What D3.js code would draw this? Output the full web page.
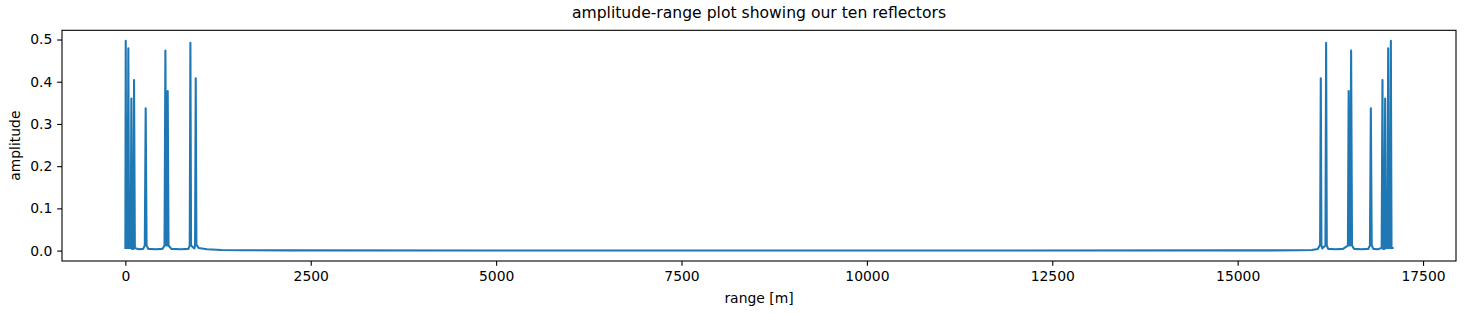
<!DOCTYPE html>
<html>
<head>
<meta charset="utf-8">
<script src="https://cdn.jsdelivr.net/npm/d3@7"></script>
<style>
  html, body { margin: 0; padding: 0; background: #fff; }
  svg { display: block; font-family: "DejaVu Sans", sans-serif; }
</style>
</head>
<body>
<svg id="chart" width="1466" height="314"></svg>
<script>
// range [m] and amplitude of the curve
const rangeM = [
  0, 5, 12, 30, 40, 50, 72, 81, 90, 108, 117, 128, 180, 240, 262, 274, 286, 310,
  400, 500, 528, 540, 552, 562, 571, 582, 620, 750, 850, 868, 877, 886, 930, 940,
  949, 958, 990, 1100, 1300, 1600, 2200, 5000, 8535, 12000, 15000, 15500, 15800,
  16000, 16080, 16112, 16121, 16130, 16140, 16184, 16193, 16202, 16220, 16320,
  16420, 16487, 16497, 16508, 16518, 16530, 16542, 16570, 16670, 16760, 16784,
  16796, 16808, 16830, 16890, 16942, 16953, 16962, 16980, 16989, 16998, 17020,
  17030, 17040, 17058, 17066, 17075, 17090
];
const amplitude = [
  0.006, 0.497, 0.006, 0.006, 0.479, 0.006, 0.006, 0.360, 0.004, 0.004, 0.404, 0.006, 0.003, 0.004, 0.012, 0.337, 0.012, 0.004,
  0.003, 0.004, 0.012, 0.474, 0.012, 0.012, 0.378, 0.012, 0.004, 0.003, 0.004, 0.012, 0.492, 0.012, 0.005, 0.012,
  0.408, 0.014, 0.006, 0.003, 0.0015, 0.001, 0.0005, 0.0003, 0.0002, 0.0003, 0.0005, 0.0006, 0.0008,
  0.0015, 0.004, 0.014, 0.408, 0.012, 0.005, 0.012, 0.492, 0.012, 0.004, 0.003,
  0.004, 0.012, 0.378, 0.012, 0.012, 0.474, 0.012, 0.004, 0.003, 0.004, 0.012,
  0.337, 0.012, 0.004, 0.003, 0.006, 0.404, 0.004, 0.004, 0.360, 0.006, 0.006,
  0.479, 0.006, 0.006, 0.497, 0.006, 0.006
];
const xTicks = [0, 2500, 5000, 7500, 10000, 12500, 15000, 17500];
const yTicks = [0.0, 0.1, 0.2, 0.3, 0.4, 0.5];

const svg = d3.select("#chart");
const plotL = 62, plotR = 1456, plotT = 30.3, plotB = 261;

const xExt = d3.extent(rangeM), yExt = d3.extent(amplitude);
const xPad = (xExt[1] - xExt[0]) * 0.05, yPad = (yExt[1] - yExt[0]) * 0.05;

const x = d3.scaleLinear().domain([xExt[0] - xPad, xExt[1] + xPad]).range([plotL, plotR]);
const y = d3.scaleLinear().domain([yExt[0] - yPad, yExt[1] + yPad]).range([plotB, plotT]);

const points = rangeM.map((r, i) => [r, amplitude[i]]);

svg.append("path")
  .datum(points)
  .attr("fill", "none")
  .attr("stroke", "#1f77b4")
  .attr("stroke-width", 2.08)
  .attr("stroke-linejoin", "round")
  .attr("stroke-linecap", "square")
  .attr("d", d3.line().x(d => x(d[0])).y(d => y(d[1])));

// frame
svg.append("rect")
  .attr("x", plotL).attr("y", plotT)
  .attr("width", plotR - plotL).attr("height", plotB - plotT)
  .attr("fill", "none").attr("stroke", "#000").attr("stroke-width", 1.1);

const xAxis = svg.append("g")
  .attr("transform", `translate(0,${plotB})`)
  .call(d3.axisBottom(x).tickValues(xTicks).tickFormat(d3.format("d")).tickSizeOuter(0).tickSize(4.86).tickPadding(4.86));
const yAxis = svg.append("g")
  .attr("transform", `translate(${plotL},0)`)
  .call(d3.axisLeft(y).tickValues(yTicks).tickFormat(d3.format(".1f")).tickSizeOuter(0).tickSize(4.86).tickPadding(4.86));

[xAxis, yAxis].forEach(g => {
  g.select(".domain").remove();
  g.selectAll(".tick line").attr("stroke", "#000").attr("stroke-width", 1.1);
  g.selectAll(".tick text")
    .attr("fill", "#000")
    .attr("font-family", "DejaVu Sans")
    .attr("font-size", "13.9px");
});

svg.append("text")
  .attr("x", (plotL + plotR) / 2).attr("y", 17.5)
  .attr("text-anchor", "middle")
  .attr("font-size", "15.6px")
  .attr("fill", "#000")
  .text("amplitude-range plot showing our ten reflectors");

svg.append("text")
  .attr("x", (plotL + plotR) / 2).attr("y", 303)
  .attr("text-anchor", "middle")
  .attr("font-size", "13.9px")
  .attr("fill", "#000")
  .text("range [m]");

svg.append("text")
  .attr("transform", `translate(20,${(plotT + plotB) / 2}) rotate(-90)`)
  .attr("text-anchor", "middle")
  .attr("font-size", "13.9px")
  .attr("fill", "#000")
  .text("amplitude");
</script>
</body>
</html>
